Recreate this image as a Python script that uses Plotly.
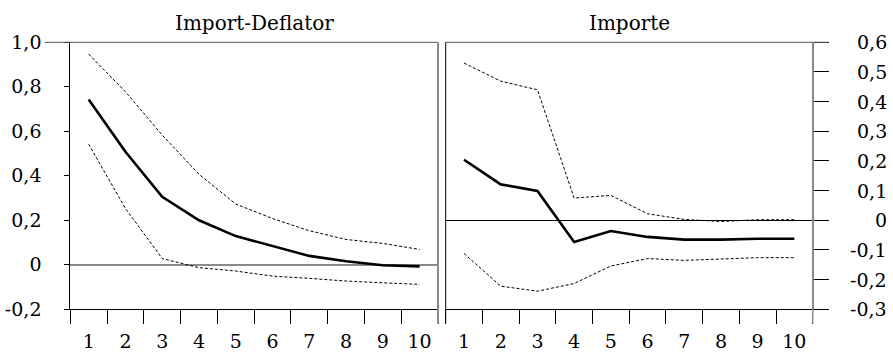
import plotly.graph_objects as go

periods = [1, 2, 3, 4, 5, 6, 7, 8, 9, 10]

# Import-Deflator
defl_mid = [0.743, 0.508, 0.306, 0.200, 0.129, 0.085, 0.040, 0.016, -0.002, -0.007]
defl_up = [0.947, 0.778, 0.583, 0.407, 0.273, 0.208, 0.153, 0.114, 0.096, 0.069]
defl_lo = [0.542, 0.253, 0.028, -0.013, -0.028, -0.051, -0.061, -0.073, -0.081, -0.088]

# Importe
imp_mid = [0.204, 0.121, 0.099, -0.073, -0.036, -0.056, -0.065, -0.065, -0.062, -0.062]
imp_up = [0.530, 0.469, 0.440, 0.075, 0.084, 0.022, 0.003, -0.004, 0.002, 0.002]
imp_lo = [-0.112, -0.222, -0.239, -0.213, -0.154, -0.129, -0.135, -0.131, -0.126, -0.126]

left_ticks = [-0.2, 0, 0.2, 0.4, 0.6, 0.8, 1.0]
left_labels = ["-0,2", "0", "0,2", "0,4", "0,6", "0,8", "1,0"]
right_ticks = [-0.3, -0.2, -0.1, 0, 0.1, 0.2, 0.3, 0.4, 0.5, 0.6]
right_labels = ["-0,3", "-0,2", "-0,1", "0", "0,1", "0,2", "0,3", "0,4", "0,5", "0,6"]
titles = ["Import-Deflator", "Importe"]

FONT = "DejaVu Serif"
W, H = 893, 352
GRAY = "#8a8a8a"

fig = go.Figure()

def add_panel(mid, up, lo, xa, ya):
    for ys in (up, lo):
        fig.add_trace(go.Scatter(x=periods, y=ys, mode="lines", xaxis=xa, yaxis=ya,
                                 line=dict(color="black", width=1, dash="3px,2px"),
                                 showlegend=False, hoverinfo="skip"))
    fig.add_trace(go.Scatter(x=periods, y=mid, mode="lines", xaxis=xa, yaxis=ya,
                             line=dict(color="black", width=2.6),
                             showlegend=False, hoverinfo="skip"))

add_panel(defl_mid, defl_up, defl_lo, "x", "y")
add_panel(imp_mid, imp_up, imp_lo, "x2", "y2")

xd1 = [70.3 / W, 438 / W]
xd2 = [445.7 / W, 812.7 / W]
yd = [(H - 309.3) / H, (H - 42.3) / H]

xcommon = dict(range=[0.5, 10.5], tickvals=periods, ticktext=[str(p) for p in periods],
               ticks="outside", ticklen=15, tickcolor="rgba(0,0,0,0)",
               showline=True, linecolor="black", linewidth=1, showgrid=False,
               zeroline=False, tickfont=dict(family=FONT, size=19, color="black"),
               minor=dict(ticks="outside", ticklen=14, tickcolor="black", tickwidth=1,
                          tick0=0.5, dtick=1, showgrid=False),
               automargin=False, fixedrange=True)

fig.update_layout(
    width=W, height=H, margin=dict(l=0, r=0, t=0, b=0),
    paper_bgcolor="white", plot_bgcolor="white",
    font=dict(family=FONT),
    xaxis=dict(domain=xd1, anchor="y", **xcommon),
    xaxis2=dict(domain=xd2, anchor="y2", **xcommon),
    yaxis=dict(domain=yd, anchor="x", range=[-0.2, 1.0], tickvals=left_ticks,
               ticktext=left_labels, ticks="outside", ticklen=5, tickcolor="black",
               showline=True, linecolor="black", showgrid=False,
               zeroline=True, zerolinecolor=GRAY, zerolinewidth=1.5,
               ticklabelstandoff=19,
               tickfont=dict(family=FONT, size=19, color="black"), automargin=False),
    yaxis2=dict(domain=yd, anchor="x2", side="right", range=[-0.3, 0.6],
                tickvals=right_ticks, ticks="outside", ticklen=15, tickcolor="black",
                showticklabels=False, showline=True, linecolor=GRAY, showgrid=False,
                zeroline=True, zerolinecolor="black", zerolinewidth=1, automargin=False),
)

for v, t in zip(right_ticks, right_labels):
    fig.add_annotation(x=889 / W, xref="paper", xanchor="right", y=v, yref="y2",
                       yanchor="middle", text=t, showarrow=False,
                       font=dict(family=FONT, size=19, color="black"))

for dom, t in zip((xd1, xd2), titles):
    fig.add_annotation(x=(dom[0] + dom[1]) / 2, xref="paper", xanchor="center",
                       y=(H - 22.7) / H, yref="paper", yanchor="middle", text=t,
                       showarrow=False, font=dict(family=FONT, size=20, color="black"))

shapes = [
    dict(type="line", xref="x domain", yref="y domain", x0=-0.069, x1=1, y0=1, y1=1,
         line=dict(color="#555555", width=1)),
    dict(type="line", xref="x2 domain", yref="y2 domain", x0=0, x1=1.042, y0=1, y1=1,
         line=dict(color="#555555", width=1)),
    dict(type="line", xref="x domain", yref="y domain", x0=1, x1=1, y0=-0.052, y1=1,
         line=dict(color=GRAY, width=2)),
    dict(type="line", xref="x2 domain", yref="y2 domain", x0=0, x1=0, y0=-0.052, y1=1,
         line=dict(color="black", width=1)),
    dict(type="line", xref="x2 domain", yref="y2 domain", x0=1, x1=1, y0=-0.052, y1=1,
         line=dict(color=GRAY, width=1.5)),
]
fig.update_layout(shapes=shapes)

fig.write_html("out.html")
